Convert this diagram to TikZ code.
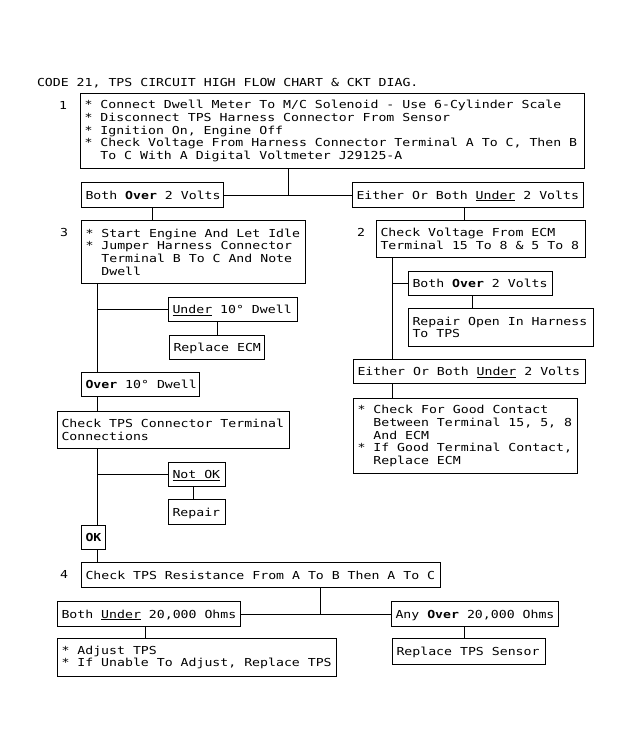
\documentclass[tikz,border=0pt]{standalone}
\usepackage{fontspec}
\setmainfont[FakeStretch=1.2]{DejaVu Sans Mono}
\frenchspacing
\newcommand\mline[1]{\mbox{#1}}
\newcommand\ind{\phantom{**}}
\begin{document}
\begin{tikzpicture}[x=1bp,y=-1bp,line width=1bp,
  every node/.style={font=\fontsize{11bp}{12.7bp}\selectfont, inner sep=0pt},
  box/.style={draw, anchor=north west, align=flush left, inner xsep=4bp, inner ysep=0pt,
    execute at begin node={\spaceskip=0pt\xspaceskip=0pt}},
  one/.style={text height=8bp, text depth=0bp},
  num/.style={anchor=base}]
\useasboundingbox[fill=white] (0,0) rectangle (631,752);

% title
\node[anchor=base west] (title) at (36.5,86) {CODE 21, TPS CIRCUIT HIGH FLOW CHART \& CKT DIAG.};

% step numbers
\node[num] (n1) at (63,109) {1};
\node[num] (n3) at (64,236.5) {3};
\node[num] (n2) at (361,236) {2};
\node[num] (n4) at (64,578.5) {4};

% boxes
\node[box, minimum width=504bp, minimum height=75bp, text width=496bp] (b1) at (80,93)
 {\mline{* Connect Dwell Meter To M/C Solenoid - Use 6-Cylinder Scale}\\
  \mline{* Disconnect TPS Harness Connector From Sensor}\\
  \mline{* Ignition On, Engine Off}\\
  \mline{* Check Voltage From Harness Connector Terminal A To C, Then B}\\
  \mline{\ind To C With A Digital Voltmeter J29125-A}};

\node[box, one, minimum width=142bp, minimum height=25bp, text width=134bp] (both1) at (81,182)
 {\mline{Both \textbf{Over} 2 Volts}};
\node[box, one, minimum width=231bp, minimum height=25bp, text width=223bp] (either1) at (352,182)
 {\mline{Either Or Both \underline{Under} 2 Volts}};

\node[box, minimum width=224bp, minimum height=63bp, text width=216bp] (b3) at (81,220)
 {\mline{* Start Engine And Let Idle}\\
  \mline{* Jumper Harness Connector}\\
  \mline{\ind Terminal B To C And Note}\\
  \mline{\ind Dwell}};

\node[box, minimum width=209bp, minimum height=37bp, text width=201bp] (b2) at (376,220)
 {\mline{Check Voltage From ECM}\\
  \mline{Terminal 15 To 8 \& 5 To 8}};

\node[box, one, minimum width=129bp, minimum height=24bp, text width=121bp] (under10) at (168,297)
 {\mline{\underline{Under} 10° Dwell}};
\node[box, one, minimum width=95bp, minimum height=24bp, text width=87bp] (replecm) at (169,335)
 {\mline{Replace ECM}};
\node[box, one, minimum width=118bp, minimum height=24bp, text width=110bp] (over10) at (81,372)
 {\mline{\textbf{Over} 10° Dwell}};
\node[box, minimum width=232bp, minimum height=37bp, text width=224bp] (chk) at (57,411)
 {\mline{Check TPS Connector Terminal}\\
  \mline{Connections}};
\node[box, one, minimum width=57bp, minimum height=24bp, text width=49bp] (notok) at (168,462)
 {\mline{\underline{Not OK}}};
\node[box, one, minimum width=57bp, minimum height=25bp, text width=49bp] (repair) at (168,499)
 {\mline{Repair}};
\node[box, one, minimum width=24bp, minimum height=24bp, text width=16bp] (ok) at (81,525)
 {\mline{\textbf{OK}}};

\node[box, one, minimum width=144bp, minimum height=24bp, text width=136bp] (bo2) at (408,271)
 {\mline{Both \textbf{Over} 2 Volts}};
\node[box, minimum width=185bp, minimum height=38bp, text width=177bp] (rep) at (408,308)
 {\mline{Repair Open In Harness}\\
  \mline{To TPS}};
\node[box, one, minimum width=232bp, minimum height=24bp, text width=224bp] (either2) at (353,359)
 {\mline{Either Or Both \underline{Under} 2 Volts}};
\node[box, minimum width=224bp, minimum height=75bp, text width=216bp] (gc) at (353,398)
 {\mline{* Check For Good Contact}\\
  \mline{\ind Between Terminal 15, 5, 8}\\
  \mline{\ind And ECM}\\
  \mline{* If Good Terminal Contact,}\\
  \mline{\ind Replace ECM}};

\node[box, one, minimum width=359bp, minimum height=25bp, text width=351bp] (b4) at (81,562)
 {\mline{Check TPS Resistance From A To B Then A To C}};
\node[box, one, minimum width=183bp, minimum height=25bp, text width=175bp] (bothU) at (57,601)
 {\mline{Both \underline{Under} 20,000 Ohms}};
\node[box, one, minimum width=167bp, minimum height=25bp, text width=159bp] (anyO) at (391,601)
 {\mline{Any \textbf{Over} 20,000 Ohms}};
\node[box, minimum width=279bp, minimum height=38bp, text width=271bp] (adj) at (57,638)
 {\mline{* Adjust TPS}\\
  \mline{* If Unable To Adjust, Replace TPS}};
\node[box, one, minimum width=153bp, minimum height=26bp, text width=145bp] (rts) at (392,638)
 {\mline{Replace TPS Sensor}};

% connector positions
\coordinate (j1) at (288,194.5);
\coordinate (c152) at (152,0);
\coordinate (c464) at (464,0);
\coordinate (sp) at (97,0);
\coordinate (c217) at (217,0);
\coordinate (c193) at (193,0);
\coordinate (j4) at (320,613.5);
\coordinate (c145) at (145,0);
\coordinate (rs) at (392,0);
\coordinate (c472) at (472,0);

% connectors
\draw (b1.south -| j1) -- (j1);
\draw (both1.east) -- (either1.west);
\draw (both1.south -| c152) -- (b3.north -| c152);
\draw (either1.south -| c464) -- (b2.north -| c464);

\draw (b3.south -| sp) -- (over10.north -| sp);
\draw (sp |- under10.west) -- (under10.west);
\draw (under10.south -| c217) -- (replecm.north -| c217);
\draw (over10.south -| sp) -- (chk.north -| sp);
\draw (chk.south -| sp) -- (ok.north -| sp);
\draw (sp |- notok.west) -- (notok.west);
\draw (notok.south -| c193) -- (repair.north -| c193);
\draw (ok.south -| sp) -- (b4.north -| sp);

\draw (b2.south -| rs) -- (either2.north -| rs);
\draw (rs |- bo2.west) -- (bo2.west);
\draw (bo2.south -| c472) -- (rep.north -| c472);
\draw (either2.south -| rs) -- (gc.north -| rs);

\draw (b4.south -| j4) -- (j4);
\draw (bothU.east) -- (anyO.west);
\draw (bothU.south -| c145) -- (adj.north -| c145);
\draw (anyO.south -| c464) -- (rts.north -| c464);
\end{tikzpicture}
\end{document}
